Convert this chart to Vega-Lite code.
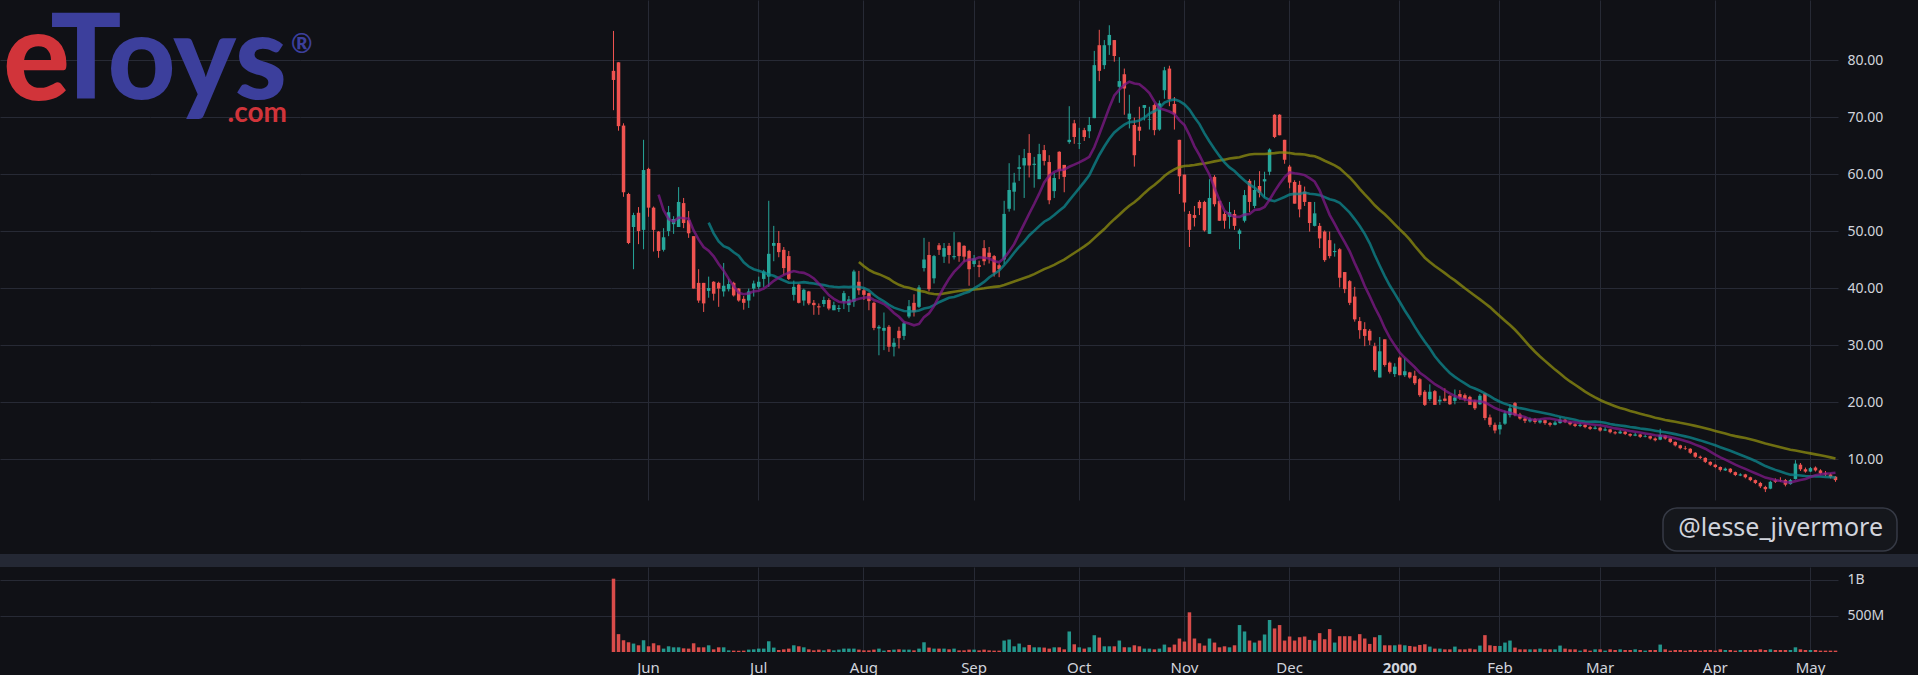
{
  "$schema": "https://vega.github.io/schema/vega-lite/v6.json",
  "background": "#101116",
  "padding": 0,
  "spacing": 0,
  "config": {
    "view": {"stroke": null},
    "axis": {"domain": false, "ticks": false, "labelFont": "Noto Sans", "labelFontSize": 14, "labelColor": "#d1d4dc", "gridColor": "#272a35", "gridWidth": 1}
  },
  "datasets": {
    "px": [
      {"d":"1999-05-20","o":78.1,"h":85.1,"l":71.2,"c":76.5,"v":1018},
      {"d":"1999-05-21","o":79.6,"h":79.6,"l":67.6,"c":68.4,"v":248},
      {"d":"1999-05-24","o":68.5,"h":68.9,"l":56.0,"c":56.8,"v":163},
      {"d":"1999-05-25","o":56.5,"h":56.7,"l":47.7,"c":47.9,"v":135},
      {"d":"1999-05-26","o":50.7,"h":53.2,"l":43.3,"c":52.8,"v":117},
      {"d":"1999-05-27","o":53.2,"h":54.2,"l":47.7,"c":50.0,"v":93},
      {"d":"1999-05-28","o":50.2,"h":66.0,"l":46.8,"c":60.7,"v":163},
      {"d":"1999-06-01","o":60.9,"h":61.1,"l":52.5,"c":54.1,"v":79},
      {"d":"1999-06-02","o":54.1,"h":54.3,"l":46.4,"c":50.2,"v":121},
      {"d":"1999-06-03","o":49.9,"h":50.0,"l":45.3,"c":46.5,"v":93},
      {"d":"1999-06-04","o":46.7,"h":50.5,"l":46.4,"c":48.9,"v":47},
      {"d":"1999-06-07","o":50.0,"h":54.4,"l":49.1,"c":53.3,"v":79},
      {"d":"1999-06-08","o":51.2,"h":52.6,"l":49.5,"c":52.1,"v":65},
      {"d":"1999-06-09","o":50.7,"h":57.7,"l":50.7,"c":55.1,"v":65},
      {"d":"1999-06-10","o":54.9,"h":55.8,"l":50.5,"c":51.4,"v":51},
      {"d":"1999-06-11","o":51.9,"h":53.5,"l":48.8,"c":49.6,"v":47},
      {"d":"1999-06-14","o":49.1,"h":49.1,"l":39.9,"c":39.9,"v":121},
      {"d":"1999-06-15","o":40.9,"h":43.3,"l":37.4,"c":37.8,"v":65},
      {"d":"1999-06-16","o":40.9,"h":40.9,"l":35.8,"c":37.3,"v":65},
      {"d":"1999-06-17","o":39.5,"h":42.0,"l":38.3,"c":40.0,"v":93},
      {"d":"1999-06-18","o":41.1,"h":41.2,"l":37.8,"c":39.0,"v":37},
      {"d":"1999-06-21","o":40.9,"h":41.1,"l":36.7,"c":39.9,"v":65},
      {"d":"1999-06-22","o":39.4,"h":44.4,"l":38.5,"c":40.4,"v":65},
      {"d":"1999-06-23","o":39.8,"h":41.6,"l":39.4,"c":40.7,"v":23},
      {"d":"1999-06-24","o":40.9,"h":41.1,"l":38.5,"c":38.7,"v":19},
      {"d":"1999-06-25","o":39.9,"h":40.0,"l":37.6,"c":37.8,"v":19},
      {"d":"1999-06-28","o":38.1,"h":38.6,"l":36.2,"c":37.4,"v":19},
      {"d":"1999-06-29","o":37.8,"h":39.9,"l":36.5,"c":39.4,"v":33},
      {"d":"1999-06-30","o":39.9,"h":41.3,"l":38.5,"c":40.8,"v":37},
      {"d":"1999-07-01","o":40.2,"h":42.0,"l":39.8,"c":41.1,"v":47},
      {"d":"1999-07-02","o":41.6,"h":43.2,"l":40.2,"c":42.9,"v":47},
      {"d":"1999-07-06","o":42.0,"h":55.3,"l":40.2,"c":46.0,"v":149},
      {"d":"1999-07-07","o":47.4,"h":50.9,"l":44.7,"c":47.9,"v":61},
      {"d":"1999-07-08","o":47.9,"h":50.0,"l":45.4,"c":46.3,"v":28},
      {"d":"1999-07-09","o":46.7,"h":47.2,"l":42.3,"c":43.5,"v":37},
      {"d":"1999-07-12","o":45.6,"h":46.5,"l":41.4,"c":41.6,"v":47},
      {"d":"1999-07-13","o":38.8,"h":41.3,"l":37.8,"c":40.2,"v":93},
      {"d":"1999-07-14","o":40.6,"h":40.8,"l":37.3,"c":37.4,"v":79},
      {"d":"1999-07-15","o":37.8,"h":39.9,"l":36.9,"c":39.7,"v":65},
      {"d":"1999-07-16","o":39.4,"h":39.5,"l":37.0,"c":37.3,"v":37},
      {"d":"1999-07-19","o":37.4,"h":37.9,"l":35.3,"c":37.0,"v":23},
      {"d":"1999-07-20","o":36.8,"h":37.3,"l":35.3,"c":36.6,"v":33},
      {"d":"1999-07-21","o":37.2,"h":38.5,"l":36.7,"c":37.9,"v":23},
      {"d":"1999-07-22","o":37.9,"h":38.2,"l":36.1,"c":36.4,"v":37},
      {"d":"1999-07-23","o":36.1,"h":37.6,"l":36.1,"c":37.0,"v":23},
      {"d":"1999-07-26","o":36.3,"h":37.0,"l":35.8,"c":36.5,"v":33},
      {"d":"1999-07-27","o":37.6,"h":39.5,"l":36.3,"c":39.1,"v":47},
      {"d":"1999-07-28","o":37.0,"h":38.6,"l":35.8,"c":38.0,"v":47},
      {"d":"1999-07-29","o":37.6,"h":43.2,"l":36.7,"c":42.9,"v":47},
      {"d":"1999-07-30","o":41.1,"h":43.0,"l":38.8,"c":39.6,"v":33},
      {"d":"1999-08-02","o":39.6,"h":40.0,"l":37.9,"c":38.8,"v":23},
      {"d":"1999-08-03","o":39.1,"h":39.2,"l":36.1,"c":37.7,"v":23},
      {"d":"1999-08-04","o":37.4,"h":37.6,"l":32.6,"c":33.0,"v":33},
      {"d":"1999-08-05","o":32.9,"h":33.5,"l":28.2,"c":33.2,"v":47},
      {"d":"1999-08-06","o":32.5,"h":35.7,"l":29.1,"c":33.0,"v":19},
      {"d":"1999-08-09","o":33.2,"h":33.5,"l":28.8,"c":29.7,"v":28},
      {"d":"1999-08-10","o":29.7,"h":31.2,"l":28.0,"c":30.4,"v":33},
      {"d":"1999-08-11","o":32.5,"h":33.2,"l":29.4,"c":31.2,"v":37},
      {"d":"1999-08-12","o":31.6,"h":34.1,"l":30.9,"c":33.8,"v":33},
      {"d":"1999-08-13","o":35.0,"h":37.9,"l":34.7,"c":36.8,"v":33},
      {"d":"1999-08-16","o":37.4,"h":38.9,"l":35.0,"c":35.8,"v":23},
      {"d":"1999-08-17","o":36.7,"h":40.5,"l":36.5,"c":40.1,"v":47},
      {"d":"1999-08-18","o":43.5,"h":48.8,"l":42.9,"c":45.0,"v":135},
      {"d":"1999-08-19","o":45.8,"h":48.1,"l":39.4,"c":39.8,"v":61},
      {"d":"1999-08-20","o":41.7,"h":45.8,"l":40.8,"c":45.6,"v":47},
      {"d":"1999-08-23","o":47.5,"h":47.9,"l":45.8,"c":46.7,"v":47},
      {"d":"1999-08-24","o":45.5,"h":47.9,"l":44.4,"c":47.0,"v":47},
      {"d":"1999-08-25","o":47.4,"h":47.9,"l":44.3,"c":45.8,"v":37},
      {"d":"1999-08-26","o":45.4,"h":49.8,"l":45.0,"c":45.6,"v":47},
      {"d":"1999-08-27","o":48.0,"h":48.1,"l":44.6,"c":45.6,"v":23},
      {"d":"1999-08-30","o":47.4,"h":47.5,"l":44.6,"c":45.5,"v":23},
      {"d":"1999-08-31","o":46.5,"h":46.7,"l":40.4,"c":43.3,"v":33},
      {"d":"1999-09-01","o":44.2,"h":45.8,"l":43.7,"c":45.2,"v":33},
      {"d":"1999-09-02","o":44.0,"h":44.8,"l":41.9,"c":43.7,"v":23},
      {"d":"1999-09-03","o":47.0,"h":48.4,"l":44.0,"c":44.7,"v":33},
      {"d":"1999-09-07","o":46.2,"h":47.2,"l":44.3,"c":45.4,"v":23},
      {"d":"1999-09-08","o":45.6,"h":45.8,"l":42.0,"c":42.7,"v":19},
      {"d":"1999-09-09","o":44.0,"h":44.3,"l":41.9,"c":43.3,"v":19},
      {"d":"1999-09-10","o":45.0,"h":55.3,"l":44.2,"c":53.0,"v":159},
      {"d":"1999-09-13","o":53.9,"h":61.9,"l":53.4,"c":57.2,"v":173},
      {"d":"1999-09-14","o":56.9,"h":60.2,"l":53.6,"c":58.5,"v":79},
      {"d":"1999-09-15","o":60.9,"h":63.3,"l":58.8,"c":61.2,"v":117},
      {"d":"1999-09-16","o":61.5,"h":64.4,"l":55.8,"c":62.8,"v":65},
      {"d":"1999-09-17","o":63.7,"h":67.0,"l":59.4,"c":61.5,"v":98},
      {"d":"1999-09-20","o":61.6,"h":63.0,"l":57.6,"c":61.8,"v":65},
      {"d":"1999-09-21","o":59.1,"h":65.3,"l":59.1,"c":63.5,"v":65},
      {"d":"1999-09-22","o":64.2,"h":65.1,"l":61.5,"c":62.3,"v":61},
      {"d":"1999-09-23","o":62.1,"h":63.3,"l":54.7,"c":55.4,"v":47},
      {"d":"1999-09-24","o":57.0,"h":60.2,"l":55.8,"c":59.3,"v":65},
      {"d":"1999-09-27","o":63.9,"h":64.0,"l":59.1,"c":60.6,"v":65},
      {"d":"1999-09-28","o":61.6,"h":61.6,"l":56.8,"c":59.5,"v":37},
      {"d":"1999-09-29","o":65.6,"h":71.9,"l":65.3,"c":66.0,"v":285},
      {"d":"1999-09-30","o":68.9,"h":69.5,"l":65.3,"c":66.5,"v":107},
      {"d":"1999-10-01","o":65.3,"h":68.1,"l":64.4,"c":65.4,"v":65},
      {"d":"1999-10-04","o":67.7,"h":68.1,"l":65.8,"c":66.5,"v":47},
      {"d":"1999-10-05","o":67.5,"h":70.0,"l":66.3,"c":68.6,"v":65},
      {"d":"1999-10-06","o":69.8,"h":81.6,"l":69.8,"c":79.1,"v":233},
      {"d":"1999-10-07","o":82.6,"h":85.3,"l":76.3,"c":78.1,"v":201},
      {"d":"1999-10-08","o":79.1,"h":83.5,"l":78.4,"c":82.6,"v":79},
      {"d":"1999-10-11","o":82.6,"h":86.1,"l":80.9,"c":84.4,"v":79},
      {"d":"1999-10-12","o":83.5,"h":83.5,"l":79.7,"c":80.7,"v":79},
      {"d":"1999-10-13","o":75.3,"h":80.5,"l":72.5,"c":76.3,"v":159},
      {"d":"1999-10-14","o":77.5,"h":78.5,"l":70.4,"c":75.0,"v":65},
      {"d":"1999-10-15","o":69.6,"h":73.9,"l":68.0,"c":70.6,"v":65},
      {"d":"1999-10-18","o":68.6,"h":69.9,"l":61.3,"c":63.3,"v":93},
      {"d":"1999-10-19","o":68.3,"h":71.8,"l":65.8,"c":67.6,"v":79},
      {"d":"1999-10-20","o":71.6,"h":72.1,"l":69.4,"c":72.1,"v":47},
      {"d":"1999-10-21","o":69.5,"h":71.8,"l":67.8,"c":69.6,"v":47},
      {"d":"1999-10-22","o":72.1,"h":72.4,"l":66.8,"c":67.7,"v":37},
      {"d":"1999-10-25","o":67.8,"h":72.9,"l":67.6,"c":72.4,"v":47},
      {"d":"1999-10-26","o":74.7,"h":78.8,"l":73.2,"c":78.2,"v":103},
      {"d":"1999-10-27","o":78.5,"h":79.0,"l":71.9,"c":73.1,"v":65},
      {"d":"1999-10-28","o":72.3,"h":73.5,"l":67.8,"c":70.5,"v":103},
      {"d":"1999-10-29","o":66.0,"h":66.0,"l":56.5,"c":59.6,"v":187},
      {"d":"1999-11-01","o":59.9,"h":59.9,"l":53.4,"c":55.0,"v":145},
      {"d":"1999-11-02","o":53.0,"h":53.5,"l":47.2,"c":50.2,"v":551},
      {"d":"1999-11-03","o":52.8,"h":54.4,"l":50.8,"c":52.3,"v":187},
      {"d":"1999-11-04","o":55.1,"h":55.4,"l":52.8,"c":54.0,"v":121},
      {"d":"1999-11-05","o":55.1,"h":55.3,"l":49.9,"c":50.1,"v":89},
      {"d":"1999-11-08","o":49.5,"h":59.1,"l":49.5,"c":55.8,"v":187},
      {"d":"1999-11-09","o":59.5,"h":59.8,"l":54.3,"c":54.7,"v":131},
      {"d":"1999-11-10","o":55.3,"h":55.3,"l":51.8,"c":51.8,"v":65},
      {"d":"1999-11-11","o":53.0,"h":53.5,"l":50.4,"c":51.8,"v":79},
      {"d":"1999-11-12","o":52.5,"h":55.1,"l":50.4,"c":53.3,"v":65},
      {"d":"1999-11-15","o":53.0,"h":53.7,"l":50.2,"c":50.9,"v":93},
      {"d":"1999-11-16","o":49.5,"h":50.4,"l":46.8,"c":50.1,"v":374},
      {"d":"1999-11-17","o":51.8,"h":57.2,"l":51.5,"c":56.3,"v":285},
      {"d":"1999-11-18","o":58.8,"h":59.1,"l":53.3,"c":55.1,"v":159},
      {"d":"1999-11-19","o":54.4,"h":58.9,"l":54.0,"c":57.2,"v":131},
      {"d":"1999-11-22","o":57.9,"h":60.5,"l":55.9,"c":56.7,"v":159},
      {"d":"1999-11-23","o":58.7,"h":60.4,"l":55.9,"c":59.1,"v":243},
      {"d":"1999-11-24","o":60.4,"h":64.5,"l":59.8,"c":64.3,"v":444},
      {"d":"1999-11-26","o":70.4,"h":70.5,"l":66.3,"c":66.5,"v":327},
      {"d":"1999-11-29","o":70.4,"h":70.5,"l":66.8,"c":66.8,"v":374},
      {"d":"1999-11-30","o":66.0,"h":66.0,"l":61.8,"c":62.5,"v":159},
      {"d":"1999-12-01","o":61.3,"h":61.6,"l":57.5,"c":58.5,"v":215},
      {"d":"1999-12-02","o":58.6,"h":58.9,"l":54.8,"c":54.8,"v":159},
      {"d":"1999-12-03","o":58.1,"h":58.8,"l":52.4,"c":53.8,"v":205},
      {"d":"1999-12-06","o":56.9,"h":57.8,"l":54.4,"c":55.1,"v":215},
      {"d":"1999-12-07","o":55.1,"h":55.1,"l":49.9,"c":51.4,"v":168},
      {"d":"1999-12-08","o":50.9,"h":55.1,"l":50.8,"c":53.1,"v":159},
      {"d":"1999-12-09","o":50.9,"h":51.4,"l":47.0,"c":48.7,"v":262},
      {"d":"1999-12-10","o":49.9,"h":50.1,"l":44.6,"c":44.9,"v":177},
      {"d":"1999-12-13","o":48.4,"h":49.9,"l":45.2,"c":45.6,"v":318},
      {"d":"1999-12-14","o":46.3,"h":47.8,"l":45.5,"c":46.5,"v":131},
      {"d":"1999-12-15","o":46.8,"h":47.0,"l":40.1,"c":41.8,"v":219},
      {"d":"1999-12-16","o":42.8,"h":42.8,"l":39.1,"c":39.8,"v":219},
      {"d":"1999-12-17","o":41.2,"h":41.4,"l":37.0,"c":37.4,"v":219},
      {"d":"1999-12-20","o":38.5,"h":40.2,"l":34.1,"c":34.5,"v":159},
      {"d":"1999-12-21","o":34.2,"h":34.9,"l":31.1,"c":32.6,"v":248},
      {"d":"1999-12-22","o":32.8,"h":34.0,"l":29.8,"c":31.6,"v":187},
      {"d":"1999-12-23","o":32.5,"h":32.8,"l":30.0,"c":30.8,"v":112},
      {"d":"1999-12-27","o":29.8,"h":30.4,"l":25.3,"c":25.6,"v":205},
      {"d":"1999-12-28","o":24.3,"h":31.4,"l":24.3,"c":28.9,"v":234},
      {"d":"1999-12-29","o":31.0,"h":31.0,"l":26.2,"c":26.5,"v":93},
      {"d":"1999-12-30","o":26.9,"h":27.1,"l":25.0,"c":25.3,"v":93},
      {"d":"1999-12-31","o":24.9,"h":26.8,"l":24.4,"c":26.2,"v":93},
      {"d":"2000-01-03","o":27.8,"h":28.0,"l":24.7,"c":24.7,"v":103},
      {"d":"2000-01-04","o":24.7,"h":27.7,"l":24.4,"c":25.4,"v":93},
      {"d":"2000-01-05","o":25.2,"h":25.3,"l":24.1,"c":24.3,"v":84},
      {"d":"2000-01-06","o":24.6,"h":25.5,"l":23.0,"c":23.3,"v":75},
      {"d":"2000-01-07","o":24.0,"h":24.2,"l":20.9,"c":21.2,"v":98},
      {"d":"2000-01-10","o":21.8,"h":22.1,"l":19.3,"c":19.5,"v":107},
      {"d":"2000-01-11","o":20.5,"h":23.1,"l":20.2,"c":21.8,"v":75},
      {"d":"2000-01-12","o":21.9,"h":22.1,"l":19.5,"c":19.5,"v":47},
      {"d":"2000-01-13","o":20.1,"h":21.1,"l":19.5,"c":20.4,"v":47},
      {"d":"2000-01-14","o":20.6,"h":22.4,"l":20.1,"c":20.2,"v":37},
      {"d":"2000-01-18","o":21.1,"h":21.2,"l":19.5,"c":19.6,"v":37},
      {"d":"2000-01-19","o":20.2,"h":22.2,"l":19.6,"c":20.8,"v":75},
      {"d":"2000-01-20","o":21.4,"h":22.1,"l":20.4,"c":20.8,"v":37},
      {"d":"2000-01-21","o":21.2,"h":21.5,"l":20.1,"c":20.5,"v":37},
      {"d":"2000-01-24","o":20.9,"h":21.1,"l":19.5,"c":19.5,"v":47},
      {"d":"2000-01-25","o":20.1,"h":20.4,"l":18.6,"c":18.9,"v":37},
      {"d":"2000-01-26","o":19.6,"h":21.4,"l":19.5,"c":21.1,"v":89},
      {"d":"2000-01-27","o":21.5,"h":21.6,"l":16.8,"c":17.2,"v":234},
      {"d":"2000-01-28","o":17.3,"h":17.8,"l":15.6,"c":16.0,"v":93},
      {"d":"2000-01-31","o":16.0,"h":16.4,"l":14.5,"c":15.0,"v":84},
      {"d":"2000-02-01","o":15.2,"h":16.5,"l":14.3,"c":16.0,"v":84},
      {"d":"2000-02-02","o":16.2,"h":18.5,"l":16.0,"c":18.0,"v":131},
      {"d":"2000-02-03","o":17.7,"h":19.6,"l":17.3,"c":18.9,"v":159},
      {"d":"2000-02-04","o":19.8,"h":20.0,"l":17.5,"c":17.7,"v":61},
      {"d":"2000-02-07","o":17.8,"h":18.1,"l":16.9,"c":17.1,"v":37},
      {"d":"2000-02-08","o":17.1,"h":17.4,"l":16.3,"c":16.7,"v":37},
      {"d":"2000-02-09","o":16.6,"h":17.3,"l":16.4,"c":17.0,"v":37},
      {"d":"2000-02-10","o":17.0,"h":17.2,"l":16.2,"c":16.5,"v":37},
      {"d":"2000-02-11","o":16.4,"h":17.0,"l":16.2,"c":16.8,"v":47},
      {"d":"2000-02-14","o":16.8,"h":16.9,"l":16.0,"c":16.3,"v":37},
      {"d":"2000-02-15","o":16.3,"h":16.5,"l":15.7,"c":16.0,"v":37},
      {"d":"2000-02-16","o":16.0,"h":16.7,"l":15.9,"c":16.4,"v":37},
      {"d":"2000-02-17","o":16.3,"h":17.4,"l":16.2,"c":16.9,"v":89},
      {"d":"2000-02-18","o":16.9,"h":17.0,"l":16.3,"c":16.5,"v":47},
      {"d":"2000-02-22","o":16.5,"h":16.6,"l":15.9,"c":16.1,"v":37},
      {"d":"2000-02-23","o":16.1,"h":16.3,"l":15.6,"c":15.8,"v":37},
      {"d":"2000-02-24","o":15.8,"h":16.3,"l":15.6,"c":16.0,"v":19},
      {"d":"2000-02-25","o":16.0,"h":16.1,"l":15.4,"c":15.6,"v":37},
      {"d":"2000-02-28","o":15.6,"h":15.8,"l":15.1,"c":15.3,"v":19},
      {"d":"2000-02-29","o":15.3,"h":15.8,"l":15.2,"c":15.5,"v":37},
      {"d":"2000-03-01","o":15.5,"h":15.6,"l":14.8,"c":15.0,"v":37},
      {"d":"2000-03-02","o":15.0,"h":15.6,"l":14.9,"c":15.2,"v":19},
      {"d":"2000-03-03","o":15.2,"h":15.3,"l":14.5,"c":14.7,"v":37},
      {"d":"2000-03-06","o":14.7,"h":14.9,"l":14.3,"c":14.5,"v":28},
      {"d":"2000-03-07","o":14.5,"h":15.1,"l":14.4,"c":14.8,"v":37},
      {"d":"2000-03-08","o":14.8,"h":14.9,"l":14.2,"c":14.4,"v":28},
      {"d":"2000-03-09","o":14.4,"h":14.5,"l":13.9,"c":14.1,"v":28},
      {"d":"2000-03-10","o":14.1,"h":14.6,"l":14.0,"c":14.3,"v":37},
      {"d":"2000-03-13","o":14.3,"h":14.4,"l":13.7,"c":13.9,"v":28},
      {"d":"2000-03-14","o":13.9,"h":14.3,"l":13.8,"c":14.0,"v":19},
      {"d":"2000-03-15","o":14.0,"h":14.1,"l":13.4,"c":13.6,"v":28},
      {"d":"2000-03-16","o":13.6,"h":13.8,"l":13.1,"c":13.3,"v":28},
      {"d":"2000-03-17","o":13.4,"h":15.3,"l":13.3,"c":14.2,"v":103},
      {"d":"2000-03-20","o":14.1,"h":14.2,"l":13.4,"c":13.6,"v":37},
      {"d":"2000-03-21","o":13.6,"h":13.7,"l":12.8,"c":13.0,"v":19},
      {"d":"2000-03-22","o":13.0,"h":13.1,"l":12.2,"c":12.4,"v":28},
      {"d":"2000-03-23","o":12.4,"h":12.5,"l":11.7,"c":11.9,"v":28},
      {"d":"2000-03-24","o":11.9,"h":12.3,"l":11.6,"c":11.8,"v":19},
      {"d":"2000-03-27","o":11.8,"h":11.9,"l":10.9,"c":11.1,"v":28},
      {"d":"2000-03-28","o":11.1,"h":11.2,"l":10.2,"c":10.4,"v":28},
      {"d":"2000-03-29","o":10.4,"h":10.6,"l":10.0,"c":10.2,"v":19},
      {"d":"2000-03-30","o":10.2,"h":10.3,"l":9.3,"c":9.5,"v":28},
      {"d":"2000-03-31","o":9.5,"h":9.6,"l":8.8,"c":9.0,"v":28},
      {"d":"2000-04-03","o":9.0,"h":9.1,"l":8.4,"c":8.6,"v":19},
      {"d":"2000-04-04","o":8.6,"h":8.7,"l":7.8,"c":8.1,"v":37},
      {"d":"2000-04-05","o":8.0,"h":8.5,"l":7.9,"c":8.3,"v":28},
      {"d":"2000-04-06","o":8.3,"h":8.4,"l":7.5,"c":7.7,"v":28},
      {"d":"2000-04-07","o":7.7,"h":7.8,"l":7.0,"c":7.2,"v":19},
      {"d":"2000-04-10","o":7.1,"h":7.5,"l":7.0,"c":7.3,"v":28},
      {"d":"2000-04-11","o":7.3,"h":7.4,"l":6.6,"c":6.8,"v":28},
      {"d":"2000-04-12","o":6.8,"h":6.9,"l":6.1,"c":6.3,"v":28},
      {"d":"2000-04-13","o":6.3,"h":6.4,"l":5.6,"c":5.8,"v":28},
      {"d":"2000-04-14","o":5.8,"h":6.0,"l":4.9,"c":5.2,"v":37},
      {"d":"2000-04-17","o":5.1,"h":5.3,"l":4.2,"c":4.7,"v":28},
      {"d":"2000-04-18","o":4.8,"h":6.2,"l":4.7,"c":6.0,"v":37},
      {"d":"2000-04-19","o":6.3,"h":6.6,"l":5.8,"c":6.0,"v":28},
      {"d":"2000-04-20","o":6.3,"h":6.8,"l":6.0,"c":6.2,"v":28},
      {"d":"2000-04-24","o":6.3,"h":6.5,"l":5.2,"c":5.5,"v":28},
      {"d":"2000-04-25","o":5.6,"h":6.5,"l":5.5,"c":6.3,"v":28},
      {"d":"2000-04-26","o":6.5,"h":9.8,"l":6.4,"c":9.2,"v":65},
      {"d":"2000-04-27","o":9.0,"h":9.3,"l":7.9,"c":8.2,"v":37},
      {"d":"2000-04-28","o":8.2,"h":8.5,"l":7.6,"c":7.8,"v":28},
      {"d":"2000-05-01","o":7.8,"h":8.6,"l":7.7,"c":8.4,"v":28},
      {"d":"2000-05-02","o":8.5,"h":8.7,"l":7.8,"c":8.0,"v":28},
      {"d":"2000-05-03","o":8.0,"h":8.2,"l":7.3,"c":7.5,"v":19},
      {"d":"2000-05-04","o":7.5,"h":7.9,"l":7.0,"c":7.3,"v":19},
      {"d":"2000-05-05","o":7.3,"h":7.5,"l":6.6,"c":6.8,"v":19},
      {"d":"2000-05-08","o":6.9,"h":7.0,"l":6.0,"c":6.3,"v":19}
    ]
  },
  "vconcat": [
    {
      "hconcat": [
        {
          "width": 150,
          "height": 500,
          "title": {"text": "e", "orient": "top", "anchor": "start", "frame": "group", "align": "left", "baseline": "top", "dx": 3, "offset": -126, "font": "Lato", "fontSize": 125, "fontWeight": 900, "color": "#d1343a"},
          "data": {"values": [{}]},
          "mark": {"type": "rule", "strokeOpacity": 0},
          "encoding": {
            "y": {"datum": 10, "type": "quantitative", "scale": {"domain": [2.81, 90.53], "nice": false, "zero": false},
              "axis": {"orient": "right", "title": null, "labels": false, "values": [10, 20, 30, 40, 50, 60, 70, 80], "grid": true}}
          }
        },
        {
          "width": 150,
          "height": 500,
          "title": {"text": "Toys", "subtitle": ".com", "orient": "top", "anchor": "start", "frame": "group", "align": "right", "baseline": "top", "dx": 137, "offset": -129, "font": "Lato", "fontSize": 118, "fontWeight": 900, "color": "#3c3f9c", "subtitleFont": "Lato", "subtitleFontSize": 28, "subtitleFontWeight": 700, "subtitleColor": "#d1343a", "subtitlePadding": -24},
          "data": {"values": [{}]},
          "mark": {"type": "rule", "strokeOpacity": 0},
          "encoding": {
            "y": {"datum": 10, "type": "quantitative", "scale": {"domain": [2.81, 90.53], "nice": false, "zero": false},
              "axis": {"orient": "right", "title": null, "labels": false, "values": [10, 20, 30, 40, 50, 60, 70, 80], "grid": true}}
          }
        },
        {
          "width": 311,
          "height": 500,
          "title": {"text": "®", "orient": "top", "anchor": "start", "frame": "group", "align": "left", "baseline": "top", "dx": -9, "offset": -58, "font": "Lato", "fontSize": 26, "fontWeight": 700, "color": "#3c3f9c"},
          "data": {"values": [{}]},
          "mark": {"type": "rule", "strokeOpacity": 0},
          "encoding": {
            "y": {"datum": 10, "type": "quantitative", "scale": {"domain": [2.81, 90.53], "nice": false, "zero": false},
              "axis": {"orient": "right", "title": null, "labels": false, "values": [10, 20, 30, 40, 50, 60, 70, 80], "grid": true}}
          }
        },
        {
          "width": 1227,
          "height": 500,
          "data": {"name": "px"},
          "transform": [
            {"window": [{"op": "mean", "field": "c", "as": "m10"}, {"op": "count", "as": "n10"}], "frame": [-9, 0], "sort": [{"field": "d"}]},
            {"window": [{"op": "mean", "field": "c", "as": "m20"}, {"op": "count", "as": "n20"}], "frame": [-19, 0], "sort": [{"field": "d"}]},
            {"window": [{"op": "mean", "field": "c", "as": "m50"}, {"op": "count", "as": "n50"}], "frame": [-49, 0], "sort": [{"field": "d"}]}
          ],
          "encoding": {
            "x": {
              "field": "d", "type": "ordinal",
              "scale": {"type": "band", "paddingInner": 0, "paddingOuter": 0},
              "axis": {"orient": "bottom", "title": null, "labels": false, "grid": true, "bandPosition": 0.5,
                "values": ["1999-06-01","1999-07-01","1999-08-02","1999-09-01","1999-10-01","1999-11-01","1999-12-01","2000-01-03","2000-02-01","2000-03-01","2000-04-03","2000-05-01"]}
            }
          },
          "layer": [
            {
              "mark": {"type": "rule", "strokeWidth": 1},
              "encoding": {
                "y": {"field": "l", "type": "quantitative", "scale": {"domain": [2.81, 90.53], "nice": false, "zero": false},
                  "axis": {"orient": "right", "title": null, "values": [10, 20, 30, 40, 50, 60, 70, 80], "format": ".2f", "grid": true, "labelPadding": 9}},
                "y2": {"field": "h"},
                "color": {"condition": {"test": "datum.c >= datum.o", "value": "#26a69a"}, "value": "#ef5350"}
              }
            },
            {
              "mark": {"type": "bar", "width": {"band": 0.7}},
              "encoding": {
                "y": {"field": "o", "type": "quantitative", "scale": {"domain": [2.81, 90.53], "nice": false, "zero": false}},
                "y2": {"field": "c"},
                "color": {"condition": {"test": "datum.c >= datum.o", "value": "#26a69a"}, "value": "#ef5350"}
              }
            },
            {
              "transform": [{"filter": "datum.n50 >= 50"}],
              "mark": {"type": "line", "color": "#8f8f10", "strokeWidth": 2.6, "opacity": 0.75},
              "encoding": {"y": {"field": "m50", "type": "quantitative", "scale": {"domain": [2.81, 90.53], "nice": false, "zero": false}}}
            },
            {
              "transform": [{"filter": "datum.n20 >= 20"}],
              "mark": {"type": "line", "color": "#0d8a90", "strokeWidth": 2.6, "opacity": 0.75},
              "encoding": {"y": {"field": "m20", "type": "quantitative", "scale": {"domain": [2.81, 90.53], "nice": false, "zero": false}}}
            },
            {
              "transform": [{"filter": "datum.n10 >= 10"}],
              "mark": {"type": "line", "color": "#801a8a", "strokeWidth": 2.6, "opacity": 0.75},
              "encoding": {"y": {"field": "m10", "type": "quantitative", "scale": {"domain": [2.81, 90.53], "nice": false, "zero": false}}}
            }
          ]
        }
      ],
      "spacing": 0,
      "bounds": "flush"
    },
    {
      "width": 1838,
      "height": 7,
      "data": {"values": [{}]},
      "mark": {"type": "text", "fontSize": 0},
      "encoding": {"text": {"value": ""}}
    },
    {
      "hconcat": [
        {
          "width": 1663,
          "height": 43,
          "data": {"values": [{}]},
          "mark": {"type": "text", "fontSize": 0},
          "encoding": {"text": {"value": ""}}
        },
        {
          "width": 234,
          "height": 43,
          "view": {"fill": "#15171c", "stroke": "#363a45", "strokeWidth": 1.5, "cornerRadius": 14},
          "title": {"text": "@lesse_jivermore", "orient": "top", "anchor": "end", "frame": "group", "align": "right", "baseline": "top", "dx": -14, "offset": -33, "font": "Noto Sans", "fontSize": 25, "fontWeight": 400, "color": "#d1d4dc"},
          "data": {"values": [{}]},
          "mark": {"type": "text", "fontSize": 0},
          "encoding": {"text": {"value": ""}}
        }
      ],
      "spacing": 0,
      "bounds": "flush"
    },
    {
      "width": 1838,
      "height": 2,
      "data": {"values": [{}]},
      "mark": {"type": "text", "fontSize": 0},
      "encoding": {"text": {"value": ""}}
    },
    {
      "width": 1918,
      "height": 13,
      "view": {"fill": "#242834", "stroke": null},
      "data": {"values": [{}]},
      "mark": {"type": "text", "fontSize": 0},
      "encoding": {"text": {"value": ""}}
    },
    {
      "hconcat": [
        {
          "width": 611,
          "height": 85,
          "data": {"values": [{}]},
          "mark": {"type": "rule", "strokeOpacity": 0},
          "encoding": {
            "y": {"datum": 500, "type": "quantitative", "scale": {"domain": [0, 1180], "nice": false},
              "axis": {"orient": "right", "title": null, "labels": false, "values": [500, 1000], "grid": true}}
          }
        },
        {
          "width": 1227,
          "height": 85,
          "data": {"name": "px"},
          "mark": {"type": "bar", "width": {"band": 0.7}, "opacity": 0.9},
          "encoding": {
            "x": {
              "field": "d", "type": "ordinal",
              "scale": {"type": "band", "paddingInner": 0, "paddingOuter": 0},
              "axis": {"orient": "bottom", "title": null, "grid": true, "bandPosition": 0.5, "labelPadding": 8, "labelAngle": 0, "labelFontSize": 15,
                "values": ["1999-06-01","1999-07-01","1999-08-02","1999-09-01","1999-10-01","1999-11-01","1999-12-01","2000-01-03","2000-02-01","2000-03-01","2000-04-03","2000-05-01"],
                "labelExpr": "datum.value == '2000-01-03' ? '2000' : utcFormat(toDate(datum.value), '%b')",
                "labelFontWeight": {"condition": {"test": "datum.value == '2000-01-03'", "value": "bold"}, "value": "normal"}}
            },
            "y": {"field": "v", "type": "quantitative", "scale": {"domain": [0, 1180], "nice": false},
              "axis": {"orient": "right", "title": null, "values": [500, 1000], "grid": true, "labelPadding": 9, "labelExpr": "datum.value == 1000 ? '1B' : '500M'"}},
            "color": {"condition": {"test": "datum.c >= datum.o", "value": "#26a69a"}, "value": "#ef5350"}
          }
        }
      ],
      "spacing": 0,
      "bounds": "flush"
    }
  ]
}
